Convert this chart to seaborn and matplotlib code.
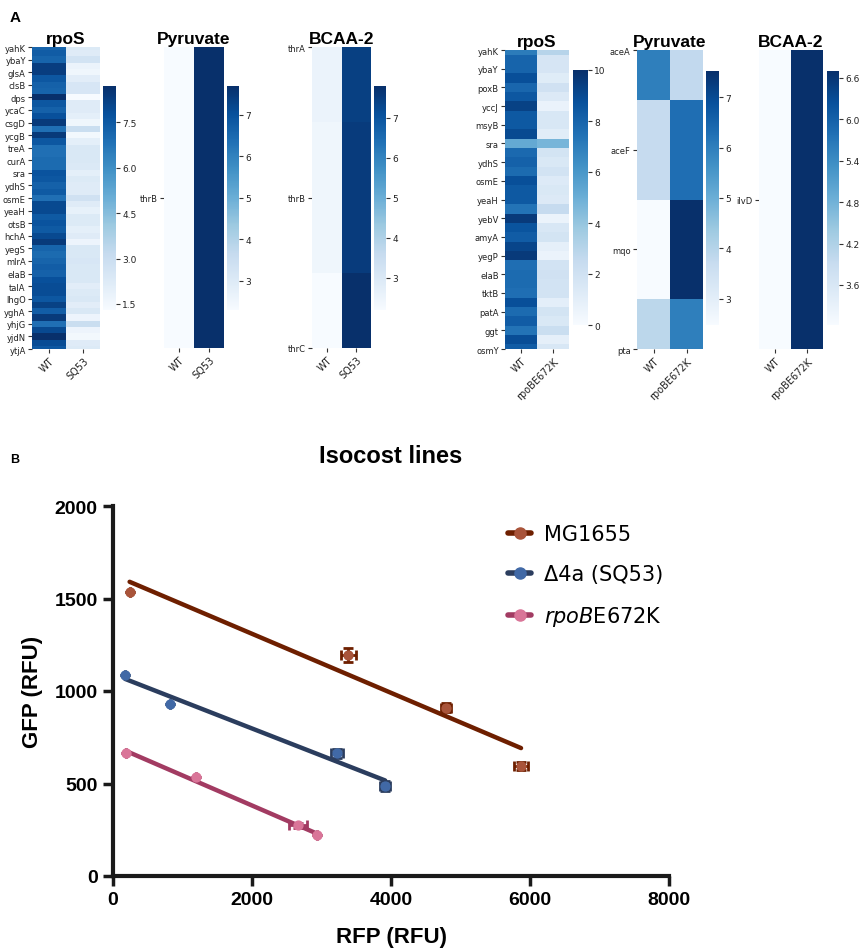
import numpy as np
import pandas as pd
import matplotlib
matplotlib.use("Agg")
import matplotlib.pyplot as plt
import seaborn as sns
from matplotlib.lines import Line2D

# ---------------- data: panel A ----------------
lr_cols = ["WT", "SQ53"]
lr_labels = ["yahK", "ybaY", "glsA", "clsB", "dps", "ycaC", "csgD", "ycgB", "treA", "curA",
             "sra", "ydhS", "osmE", "yeaH", "otsB", "hchA", "yegS", "mlrA", "elaB", "talA",
             "lhgO", "yghA", "yhjG", "yjdN", "ytjA"]
lr_wt = [7.2, 7.45, 7.2, 8.3, 8.3, 7.6, 7.3, 7.2, 8.7, 7.6, 7.3, 7.8, 8.4, 6.9, 8.4, 7.6, 6.9,
         6.9, 7.0, 7.0, 7.7, 7.6, 7.3, 7.5, 6.9,
         8.0, 8.0, 7.5, 7.7, 7.5, 8.0, 8.4, 7.2, 7.0, 7.2, 7.4, 7.3, 7.8, 7.9, 7.9, 7.6, 8.2,
         7.4, 8.4, 6.9, 8.0, 8.7, 7.9, 7.6]
lr_sq = [2.3, 2.2, 2.7, 1.75, 1.6, 2.1, 2.5, 2.5, 1.3, 2.2, 2.2, 2.0, 1.6, 3.0, 1.5, 2.0, 2.4,
         2.4, 2.4, 2.35, 2.0, 2.3, 2.2, 2.2, 2.8,
         2.2, 1.9, 2.3, 2.3, 2.0, 2.2, 1.7, 2.4, 2.4, 2.5, 2.4, 2.4, 2.4, 2.1, 2.3, 2.4, 2.1,
         2.4, 1.7, 3.0, 1.7, 1.5, 2.2, 2.3]
lr_cticks = [1.5, 3.0, 4.5, 6.0, 7.5]

lp_labels = ["thrB"]
lp_wt = [2.29]
lp_sq = [7.69]
lp_cticks = [3, 4, 5, 6, 7]

lb_labels = ["thrA", "thrB", "thrC"]
lb_wt = [2.54, 2.42, 2.2]
lb_sq = [7.45, 7.55, 7.8]
lb_cticks = [3, 4, 5, 6, 7]

rr_cols = ["WT", "rpoBE672K"]
rr_labels = ["yahK", "ybaY", "poxB", "yccJ", "msyB", "sra", "ydhS", "osmE", "yeaH", "yebV",
             "amyA", "yegP", "elaB", "tktB", "patA", "ggt", "osmY"]
rr_wt = [7.1, 8.0, 8.0, 8.8, 7.9, 8.5, 9.3, 8.4, 8.4, 9.0, 5.2, 7.8, 8.1, 7.7, 8.8, 8.4, 8.4,
         7.4, 9.6, 8.6, 8.3, 9.2, 9.6, 7.6, 7.7, 7.7, 7.6, 8.8, 7.7, 8.3, 7.4, 8.9, 8.3]
rr_sq = [3.0, 1.7, 1.7, 1.2, 2.0, 1.4, 0.7, 1.6, 1.6, 1.1, 4.7, 1.8, 1.5, 1.9, 1.3, 1.5, 1.4,
         2.5, 0.6, 1.6, 1.8, 0.9, 0.6, 1.9, 2.0, 1.9, 1.9, 1.0, 1.8, 1.5, 2.3, 0.9, 1.6]
rr_cticks = [0, 2, 4, 6, 8, 10]

rp_labels = ["aceA", "aceF", "mqo", "pta"]
rp_wt = [6.0, 3.74, 2.48, 3.9]
rp_sq = [3.8, 6.3, 7.52, 6.0]
rp_cticks = [3, 4, 5, 6, 7]

rb_labels = ["ilvD"]
rb_wt = [3.02]
rb_sq = [6.70]
rb_cticks = [3.6, 4.2, 4.8, 5.4, 6.0, 6.6]

# ---------------- data: panel B ----------------
strains = ["MG1655", "\u03944a (SQ53)", r"$\it{rpoB}$E672K"]
mg_x = [239, 3387, 4794, 5871]
mg_y = [1535, 1193, 910, 595]
mg_xerr = [0, 110, 70, 100]
mg_yerr = [0, 38, 25, 20]
d4_x = [174, 826, 3226, 3916]
d4_y = [1088, 932, 663, 486]
d4_xerr = [0, 0, 85, 70]
d4_yerr = [0, 0, 25, 27]
rb2_x = [181, 1200, 2658, 2942]
rb2_y = [663, 533, 274, 220]
rb2_xerr = [0, 0, 130, 0]
rb2_yerr = [0, 0, 15, 0]
x_ticks = [0, 2000, 4000, 6000, 8000]
y_ticks = [0, 500, 1000, 1500, 2000]

line_colors = ["#6e1f00", "#2b3d5e", "#a23b62"]
point_colors = ["#a9543a", "#4169a6", "#d97598"]

# ---------------- figure ----------------
sns.set_theme(style="ticks")
plt.rcParams['font.family'] = ['DejaVu Sans']

W, H = 859, 953
fig = plt.figure(figsize=(W / 100, H / 100), dpi=100)


def rect(x0, y0, x1, y1):
    return [x0 / W, 1 - y1 / H, (x1 - x0) / W, (y1 - y0) / H]


def draw_heat(box, cbox, title, genes, cols, wt, sq, cticks, cfmt, every=1,
              vmin=None, vmax=None):
    ax = fig.add_axes(rect(*box))
    cax = fig.add_axes(rect(*cbox))
    df = pd.DataFrame({cols[0]: wt, cols[1]: sq})
    sns.heatmap(df, ax=ax, cbar_ax=cax, cmap="Blues", vmin=vmin, vmax=vmax,
                xticklabels=cols, yticklabels=False,
                cbar_kws={"ticks": cticks, "format": cfmt})
    n = len(df)
    if n > 1:
        ax.set_ylim(n - 0.5, 0.5)
    ax.set_yticks(np.arange(0, n, every) + 0.5)
    ax.set_yticklabels(genes, fontsize=6, rotation=0, color="#222222")
    ax.set_xticks(np.arange(len(cols)) + 0.5)
    ax.set_xticklabels(cols, rotation=45, ha="right", rotation_mode="anchor", fontsize=7,
                       color="#222222")
    ax.tick_params(axis="both", length=3, width=0.8, pad=1.5, left=True, bottom=True,
                   color="#333333")
    cax.tick_params(labelsize=6.5, length=3, width=0.8, pad=1.5, right=True, color="#333333",
                    labelcolor="#222222")
    ax.set_title(title, fontsize=12.5, fontweight="bold", family="Liberation Sans", pad=3,
                 color="black")
    return ax


draw_heat((32, 48, 100, 350), (103, 87, 116, 311), "rpoS", lr_labels, lr_cols,
          lr_wt, lr_sq, lr_cticks, "%.1f", every=2)
draw_heat((164, 48, 224, 349), (227, 87, 239, 311), "Pyruvate", lp_labels, lr_cols,
          lp_wt, lp_sq, lp_cticks, "%d")
draw_heat((312, 48, 371, 349), (374, 87, 386, 311), "BCAA-2", lb_labels, lr_cols,
          lb_wt, lb_sq, lb_cticks, "%d")
draw_heat((505, 51, 569, 350), (573, 71, 588, 326), "rpoS", rr_labels, rr_cols,
          rr_wt, rr_sq, rr_cticks, "%d", every=2, vmin=0, vmax=10)
draw_heat((637, 51, 703, 350), (706, 72, 719, 326), "Pyruvate", rp_labels, rr_cols,
          rp_wt, rp_sq, rp_cticks, "%d")
draw_heat((759, 51, 823, 350), (827, 72, 839, 326), "BCAA-2", rb_labels, rr_cols,
          rb_wt, rb_sq, rb_cticks, "%.1f")

fig.text(10 / W, 1 - 18 / H, "A", fontsize=11, fontweight="bold", family="Liberation Sans",
         va="center", ha="left", color="black")
fig.text(10 / W, 1 - 460 / H, "B", fontsize=9, fontweight="bold", family="Liberation Sans",
         va="center", ha="left", color="black")

# ---------------- panel B ----------------
axb = fig.add_axes(rect(113, 507, 669, 877))
series = [(mg_x, mg_y, mg_xerr, mg_yerr), (d4_x, d4_y, d4_xerr, d4_yerr),
          (rb2_x, rb2_y, rb2_xerr, rb2_yerr)]
for (sx, sy, sxe, sye), lc, pc in zip(series, line_colors, point_colors):
    sns.regplot(x=np.array(sx, float), y=np.array(sy, float), ax=axb, scatter=False,
                ci=None, truncate=True, color=lc, line_kws={"lw": 3.2, "zorder": 2})
    axb.errorbar(sx, sy, xerr=sxe, yerr=sye, fmt="none", ecolor=lc, elinewidth=2,
                 capsize=3.5, capthick=2, zorder=3)
    sns.scatterplot(x=sx, y=sy, ax=axb, color=pc, s=55, edgecolor=pc, linewidth=0,
                    zorder=4, legend=False)

axb.set_xlim(0, 8000)
axb.set_ylim(0, 2000)
axb.set_xticks(x_ticks)
axb.set_yticks(y_ticks)
for sp in ["top", "right"]:
    axb.spines[sp].set_visible(False)
for sp in ["left", "bottom"]:
    axb.spines[sp].set_linewidth(3)
    axb.spines[sp].set_color("#1a1a1a")
axb.tick_params(axis="both", direction="out", length=7, width=2.5, color="#1a1a1a",
                labelsize=14, pad=4, labelcolor="black")
for lab in axb.get_xticklabels() + axb.get_yticklabels():
    lab.set_fontweight("bold")
    lab.set_family("Liberation Sans")
axb.set_xlabel("RFP (RFU)", fontsize=16, fontweight="bold", family="Liberation Sans",
               labelpad=13, color="black")
axb.set_ylabel("GFP (RFU)", fontsize=16, fontweight="bold", family="Liberation Sans",
               labelpad=8, color="black")
fig.text(391 / W, 1 - 457 / H, "Isocost lines", fontsize=17, fontweight="bold",
         family="Liberation Sans", ha="center", va="center", color="black")

handles = [Line2D([0], [0], color=lc, lw=4, marker="o", markersize=8,
                  markerfacecolor=pc, markeredgecolor=pc)
           for lc, pc in zip(line_colors, point_colors)]
leg = fig.legend(handles, strains, loc="center left", bbox_to_anchor=(500 / W, 1 - 577 / H),
                 frameon=False, fontsize=15, handlelength=1.1, handletextpad=0.6,
                 labelspacing=0.95, borderaxespad=0)
for t in leg.get_texts():
    t.set_color("black")

fig.savefig("out.png", dpi=100)
